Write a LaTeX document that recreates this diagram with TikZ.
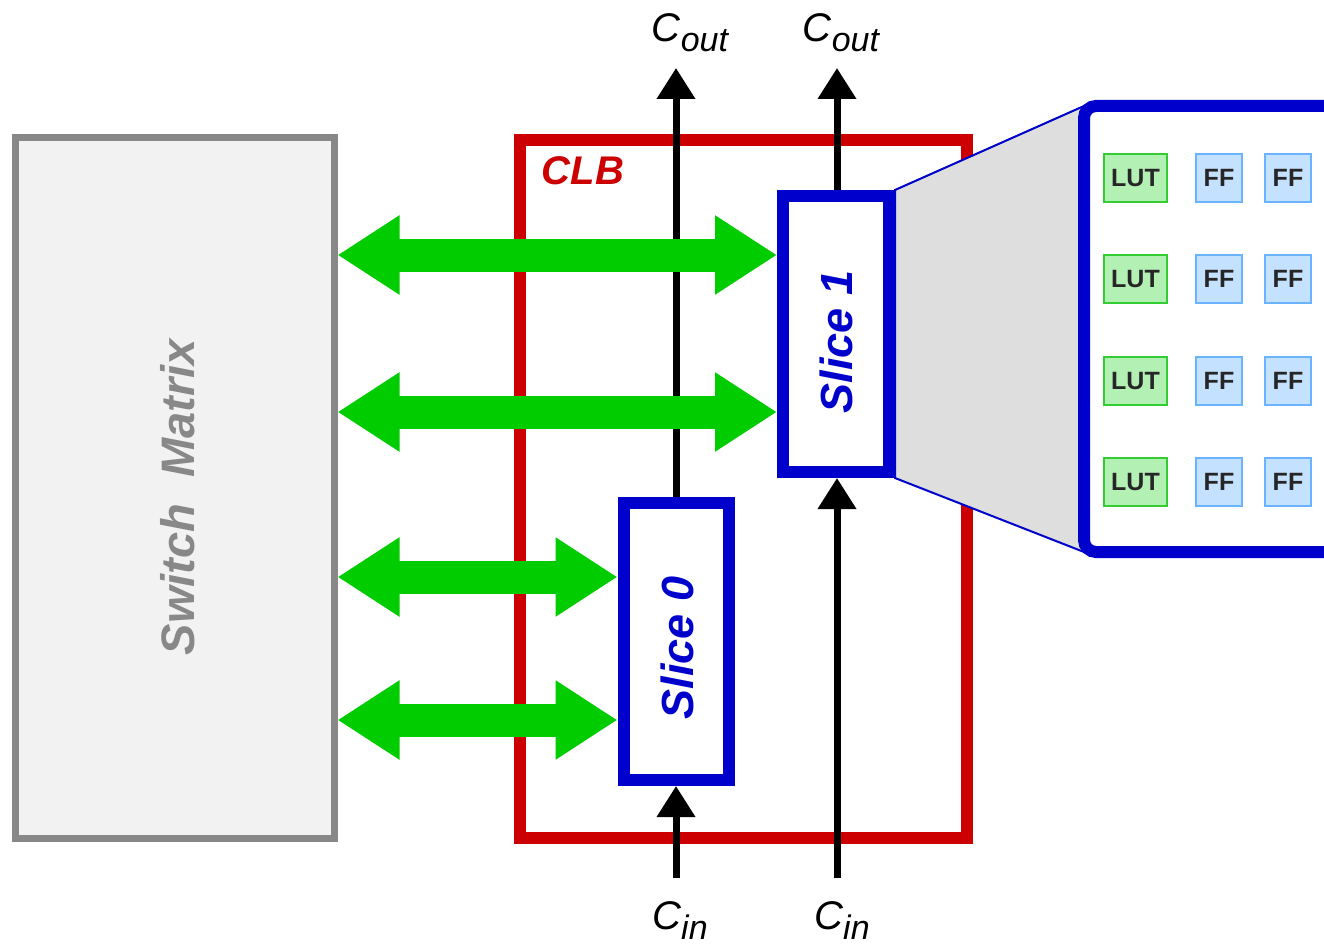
\documentclass[tikz,border=0pt]{standalone}
\usepackage{fontspec}
\setmainfont{Liberation Sans}
\usepackage{xcolor}
\usepackage{tikz}
\usetikzlibrary{arrows.meta, positioning, calc}

\definecolor{clbred}{HTML}{CC0000}
\definecolor{sliceblue}{HTML}{0000CC}
\definecolor{busgreen}{HTML}{00CC00}
\definecolor{smgray}{HTML}{888888}
\definecolor{smfill}{HTML}{F2F2F2}
\definecolor{zoomfill}{HTML}{DEDEDE}
\definecolor{lutfill}{HTML}{B3F0B3}
\definecolor{lutline}{HTML}{33CC33}
\definecolor{fffill}{HTML}{C4E1FF}
\definecolor{ffline}{HTML}{6AB4FF}

\tikzset{
  smbox/.style={draw=smgray, fill=smfill, line width=7pt, inner sep=0pt},
  clbbox/.style={draw=clbred, line width=12pt, inner sep=0pt},
  slicebox/.style={draw=sliceblue, fill=white, line width=12pt, inner sep=0pt},
  bus/.style={draw=busgreen, line width=33pt,
    arrows={Triangle[width=75pt,length=62pt]-Triangle[width=75pt,length=62pt]}},
  carry/.style={draw=black, line width=7pt, -{Triangle[width=37pt,length=31pt]}},
  cell/.style={line width=2pt, minimum height=48pt, inner sep=0pt,
    font=\fontsize{25}{25}\selectfont\bfseries, text=black!85},
  lutbox/.style={cell, draw=lutline, fill=lutfill, minimum width=63pt},
  ffbox/.style={cell, draw=ffline, fill=fffill, minimum width=46pt},
  bigtxt/.style={font=\fontsize{#1}{#1}\selectfont\bfseries\itshape},
  carrylbl/.style={anchor=base, font=\fontsize{40}{40}\selectfont\itshape}
}

\newcommand{\carrysub}[1]{C\raisebox{-10pt}[\height][0pt]{\fontsize{34}{34}\selectfont #1}}

\begin{document}
\begin{tikzpicture}[x=1pt, y=-1pt]
    \useasboundingbox (0,0) rectangle (1324,944);
    \clip (0,0) rectangle (1324,944);

    % switch matrix and CLB frame
    \node[smbox, minimum width=319pt, minimum height=700pt] (sm) at (174.5,488) {};
    \node[bigtxt=47, text=smgray, rotate=90] (smlbl) at (178,497) {Switch\ \ Matrix};
    \node[clbbox, minimum width=447.5pt, minimum height=698pt] (clb) at (743.25,489) {};
    \node[bigtxt=40, text=clbred, anchor=base] (clblbl) at (583,185) {CLB};

    % slices
    \node[slicebox, minimum width=105pt, minimum height=277pt] (s0) at (676,641.5) {};
    \node[bigtxt=45, text=sliceblue, rotate=90] (s0lbl) at (677,648) {Slice 0};
    \node[slicebox, minimum width=106pt, minimum height=276pt] (s1) at (836,334) {};
    \node[bigtxt=45, text=sliceblue, rotate=90] (s1lbl) at (836,342) {Slice 1};

    % zoom of slice 1
    \coordinate (ztop) at (1084,106);
    \coordinate (zbot) at (1084,552);
    \fill[zoomfill, draw=sliceblue, line width=2pt]
        (s1.north east) -- (ztop) -- (zbot) -- (s1.south east) -- cycle;
    \node[draw=sliceblue, line width=12pt, fill=white, rounded corners=12pt,
          minimum width=300pt, minimum height=446pt, inner sep=0pt] (panel) at (1234,329) {};
    \foreach \r [count=\i] in {178,279,381,482} {
        \node[lutbox] (lut\i) at (1135.5,\r) {LUT};
        \node[ffbox] (ffa\i) at (1219,\r) {FF};
        \node[ffbox] (ffb\i) at (1288,\r) {FF};
    }

    % carry chain
    \coordinate (cin0) at (676,878);
    \coordinate (cin1) at (837,878);
    \coordinate (cout0) at (676,68);
    \coordinate (cout1) at (837,68);
    \draw[carry] (cin0) -- (s0.south);
    \draw[carry] (s0.north) -- (cout0);
    \draw[carry] (cin1) -- (s1.south -| cin1);
    \draw[carry] (s1.north -| cout1) -- (cout1);
    \node[carrylbl] (cout0lbl) at (690,42) {\carrysub{out}};
    \node[carrylbl] (cout1lbl) at (841,42) {\carrysub{out}};
    \node[carrylbl] (cin0lbl) at (680,929) {\carrysub{in}};
    \node[carrylbl] (cin1lbl) at (842,929) {\carrysub{in}};

    % routing buses
    \foreach \y in {255,412} \draw[bus] (sm.east |- 0,\y) -- (s1.west |- 0,\y);
    \foreach \y in {577,720} \draw[bus] (sm.east |- 0,\y) -- (s0.west |- 0,\y);
\end{tikzpicture}
\end{document}
